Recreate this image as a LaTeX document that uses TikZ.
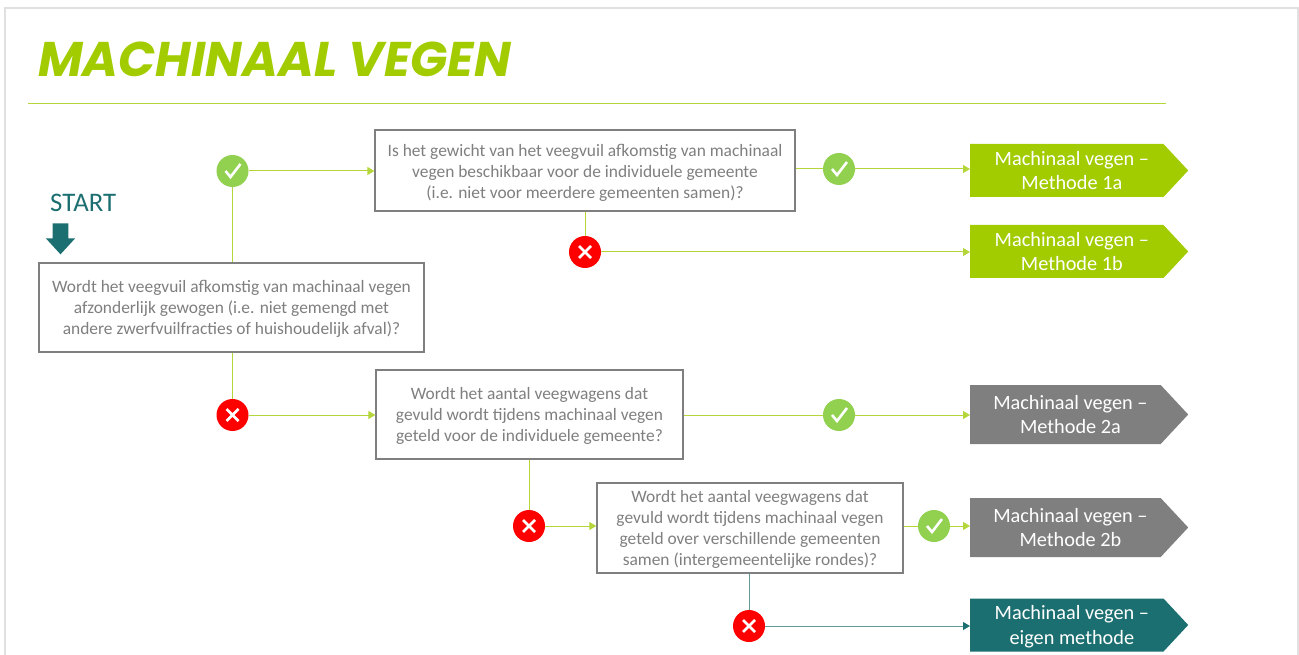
\documentclass[tikz,border=0pt]{standalone}
\usepackage{fontspec}
\setmainfont{Carlito}
\newfontfamily\titlefont{Poppins}
\usetikzlibrary{arrows.meta}
\usetikzlibrary{shapes.symbols}
\usetikzlibrary{shapes.arrows}
\definecolor{limegreen}{HTML}{A2CC00}
\definecolor{linegreen}{HTML}{B5D63A}
\definecolor{tealdark}{HTML}{1C6F70}
\definecolor{linegray}{HTML}{7F7F7F}
\definecolor{okgreen}{HTML}{92D050}
\newcommand{\methodlabel}[2]{\hspace*{10pt}\begin{tabular}{@{}c@{}}\rule{0pt}{21pt}#1\\#2\end{tabular}}
\tikzset{
	question/.style={draw=linegray,line width=1.3pt,fill=white,align=center,inner sep=0pt,
		text=linegray,font=\fontsize{17.4}{21}\selectfont},
	methodbox/.style={signal,signal to=east,signal pointer angle=94,anchor=west,inner sep=0pt,
		minimum width=218pt,minimum height=#1,text=white,
		font=\fontsize{20.3}{24.5}\selectfont},
	okmark/.style={circle,fill=okgreen,minimum size=32pt,inner sep=0pt,
		path picture={\draw[white,line width=2.6pt]
			([shift={(-7pt,0pt)}]path picture bounding box.center) --
			([shift={(-2pt,-6pt)}]path picture bounding box.center) --
			([shift={(8pt,7pt)}]path picture bounding box.center);}},
	nomark/.style={circle,fill=red,minimum size=32pt,inner sep=0pt,
		path picture={\draw[white,line width=2.8pt]
			([shift={(-6pt,-6pt)}]path picture bounding box.center) --
			([shift={(6pt,6pt)}]path picture bounding box.center)
			([shift={(-6pt,6pt)}]path picture bounding box.center) --
			([shift={(6pt,-6pt)}]path picture bounding box.center);}}
}
\begin{document}
\begin{tikzpicture}[x=1pt,y=-1pt]
	\useasboundingbox (0,0) rectangle (1299,655);
	\draw[black!12,line width=1.5pt] (5,8) rectangle (1298,670);

	\node (title) [anchor=base west,inner sep=0pt,text=limegreen,
		font=\titlefont\fontsize{48.7}{50}\selectfont\bfseries\itshape] at (38,77) {MACHINAAL VEGEN};
	\coordinate (ruleL) at (28,103);
	\coordinate (ruleR) at (1166,103);
	\draw[linegreen] (ruleL) -- (ruleR);

	\node (start) [anchor=base west,inner sep=0pt,text=tealdark,font=\fontsize{26.8}{26.8}\selectfont] at (50,212) {START};
	\node (startarrow) [single arrow,fill=tealdark,rotate=-90,inner xsep=0pt,inner ysep=7.75pt,minimum height=31pt,
		minimum width=29pt,single arrow head extend=6.75pt,single arrow tip angle=85] at (60.5,234.5) {};

	\node (q1) [question,minimum width=385pt,minimum height=89pt] at (231.5,307.5)
		{\rule{0pt}{14pt}Wordt het veegvuil afkomstig van machinaal vegen\\afzonderlijk gewogen (i.e. niet gemengd met\\andere zwerfvuilfracties of huishoudelijk afval)?};
	\node (q2) [question,minimum width=420pt,minimum height=81pt] at (585,170.5)
		{\rule{0pt}{16pt}Is het gewicht van het veegvuil afkomstig van machinaal\\vegen beschikbaar voor de individuele gemeente\\(i.e. niet voor meerdere gemeenten samen)?};
	\node (q3) [question,minimum width=307pt,minimum height=89pt] at (529.5,414.5)
		{\rule{0pt}{14pt}Wordt het aantal veegwagens dat\\gevuld wordt tijdens machinaal vegen\\geteld voor de individuele gemeente?};
	\node (q4) [question,minimum width=306pt,minimum height=90pt] at (750,528)
		{\rule{0pt}{14pt}Wordt het aantal veegwagens dat\\gevuld wordt tijdens machinaal vegen\\geteld over verschillende gemeenten\\samen (intergemeentelijke rondes)?};

	\node (ok1) [okmark] at (232.5,171) {};
	\node (ok2) [okmark] at (839,169) {};
	\node (ok3) [okmark] at (839,415) {};
	\node (ok4) [okmark] at (934,526) {};
	\node (no1) [nomark] at (585,252) {};
	\node (no2) [nomark] at (232.5,415) {};
	\node (no3) [nomark] at (529,526) {};
	\node (no4) [nomark] at (749,626) {};

	\node (m1a) [methodbox=53pt,fill=limegreen] at (970,170.5) {\methodlabel{Machinaal vegen --}{Methode 1a}};
	\node (m1b) [methodbox=53pt,fill=limegreen] at (970,251.5) {\methodlabel{Machinaal vegen --}{Methode 1b}};
	\node (m2a) [methodbox=59pt,fill=linegray] at (970,414.5) {\methodlabel{Machinaal vegen --}{Methode 2a}};
	\node (m2b) [methodbox=59pt,fill=linegray] at (970,527.5) {\methodlabel{Machinaal vegen --}{Methode 2b}};
	\node (m3) [methodbox=53pt,fill=tealdark] at (970,625) {\methodlabel{Machinaal vegen --}{eigen methode}};

	\begin{scope}[>={Triangle[length=7pt,width=8pt]},every edge/.style={draw=linegreen,line width=1pt}]
		\path (q1.north -| ok1) edge (ok1.south);
		\path (q1.south -| no2) edge (no2.north);
		\path (q2.south -| no1) edge (no1.north);
		\path (q3.south -| no3) edge (no3.north);
		\path (q2.east |- ok2) edge (ok2.west);
		\path (q3.east |- ok3) edge (ok3.west);
		\path (q4.east |- ok4) edge (ok4.west);
		\path [->,limegreen] (ok1.east) edge (ok1.east -| q2.west);
		\path [->,limegreen] (ok2.east) edge (ok2.east -| m1a.west);
		\path [->,limegreen] (no1.east) edge (no1.east -| m1b.west);
		\path [->,limegreen] (no2.east) edge (no2.east -| q3.west);
		\path [->,limegreen] (ok3.east) edge (ok3.east -| m2a.west);
		\path [->,limegreen] (no3.east) edge (no3.east -| q4.west);
		\path [->,limegreen] (ok4.east) edge (ok4.east -| m2b.west);
	\end{scope}
	\begin{scope}[>={Triangle[length=7pt,width=8pt,tealdark]},every edge/.style={draw=tealdark!70,line width=1pt}]
		\path (q4.south -| no4) edge (no4.north);
		\path [->] (no4.east) edge (no4.east -| m3.west);
	\end{scope}
\end{tikzpicture}
\end{document}
